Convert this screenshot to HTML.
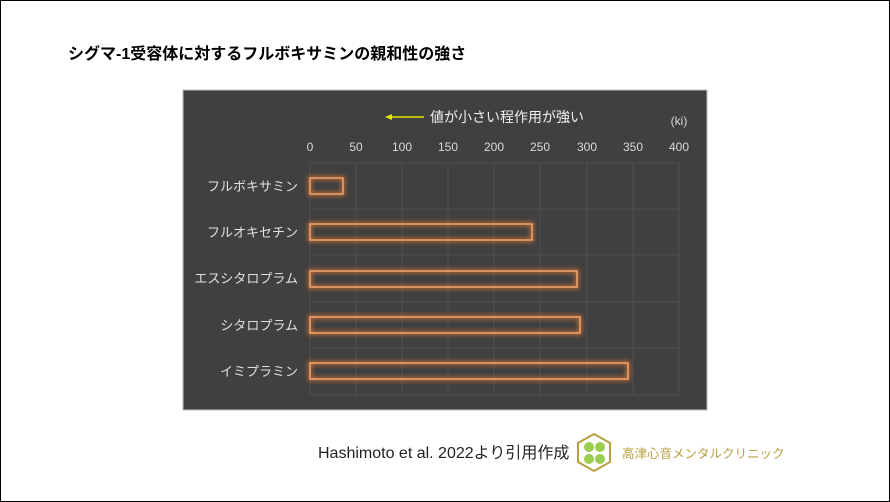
<!DOCTYPE html>
<html><head><meta charset="utf-8"><style>
body{margin:0;width:890px;height:502px;background:#fff;position:relative;overflow:hidden;font-family:"Liberation Sans","Noto Sans CJK JP",sans-serif}
.frame{position:absolute;left:0;top:0;width:888px;height:500px;border:1px solid #000}
.t{position:absolute;white-space:nowrap}
</style></head><body>
<div class="frame"></div>
<div class="t" style="left:68px;top:40px;font-size:16px;font-weight:bold;color:#000">シグマ-1受容体に対するフルボキサミンの親和性の強さ</div>
<svg style="position:absolute;left:0;top:0" width="890" height="502">
<defs><filter id="g" x="-20%" y="-50%" width="140%" height="200%"><feGaussianBlur stdDeviation="2.5"/></filter></defs>
<rect x="183" y="90" width="524" height="320" fill="#404040" stroke="#bfbfbf" stroke-width="1"/>
<g stroke="#4f4f4f" stroke-width="1">
<line x1="310" y1="163" x2="310" y2="395"/><line x1="356" y1="163" x2="356" y2="395"/><line x1="402" y1="163" x2="402" y2="395"/><line x1="448" y1="163" x2="448" y2="395"/><line x1="494" y1="163" x2="494" y2="395"/><line x1="540" y1="163" x2="540" y2="395"/><line x1="587" y1="163" x2="587" y2="395"/><line x1="633" y1="163" x2="633" y2="395"/><line x1="679" y1="163" x2="679" y2="395"/>
<line x1="310" y1="163" x2="679" y2="163"/><line x1="310" y1="209" x2="679" y2="209"/><line x1="310" y1="255" x2="679" y2="255"/><line x1="310" y1="302" x2="679" y2="302"/><line x1="310" y1="348" x2="679" y2="348"/><line x1="310" y1="395" x2="679" y2="395"/>
</g>
<g fill="none" stroke="#ed7d31" stroke-width="4" opacity="0.7" filter="url(#g)">
<rect x="310" y="178" width="33" height="16"/><rect x="310" y="224" width="222" height="16"/><rect x="310" y="271" width="267" height="16"/><rect x="310" y="317" width="270" height="16"/><rect x="310" y="363" width="318" height="16"/>
</g>
<g fill="none" stroke="#f4a46e" stroke-width="1.5">
<rect x="310" y="178" width="33" height="16"/><rect x="310" y="224" width="222" height="16"/><rect x="310" y="271" width="267" height="16"/><rect x="310" y="317" width="270" height="16"/><rect x="310" y="363" width="318" height="16"/>
</g>
<g fill="#d9d9d9" font-size="12" text-anchor="middle" font-family="Liberation Sans, sans-serif">
<text x="310" y="151">0</text><text x="356" y="151">50</text><text x="402" y="151">100</text><text x="448" y="151">150</text><text x="494" y="151">200</text><text x="540" y="151">250</text><text x="587" y="151">300</text><text x="633" y="151">350</text><text x="679" y="151">400</text>
<text x="679" y="125">(ki)</text>
</g>
<g fill="#e0e0e0" font-size="13" text-anchor="end" font-family="Liberation Sans, Noto Sans CJK JP, sans-serif">
<text x="298" y="191">フルボキサミン</text><text x="298" y="237">フルオキセチン</text><text x="298" y="283">エスシタロプラム</text><text x="298" y="330">シタロプラム</text><text x="298" y="376">イミプラミン</text>
</g>
<line x1="388" y1="117" x2="424" y2="117" stroke="#e6e600" stroke-width="1.5"/>
<polygon points="385,117 392,114 392,120" fill="#e6e600"/>
<text x="430" y="122" fill="#f0f0f0" font-size="14" font-family="Liberation Sans, Noto Sans CJK JP, sans-serif">値が小さい程作用が強い</text>
<text x="318" y="458" fill="#222" font-size="16" font-family="Liberation Sans, Noto Sans CJK JP, sans-serif">Hashimoto et al. 2022より引用作成</text>
<polygon points="594,434 610,443 610,462 594,471 578,462 578,443" fill="#fff" stroke="#b8a040" stroke-width="2"/>
<circle cx="589" cy="447" r="5" fill="#9acd50"/><circle cx="600" cy="447" r="5" fill="#9acd50"/><circle cx="589" cy="459" r="5" fill="#9acd50"/><circle cx="600" cy="459" r="5" fill="#9acd50"/>
<text x="622" y="458" fill="#b8a040" font-size="12.5" font-family="Liberation Sans, Noto Sans CJK JP, sans-serif">高津心音メンタルクリニック</text>
</svg>
</body></html>
